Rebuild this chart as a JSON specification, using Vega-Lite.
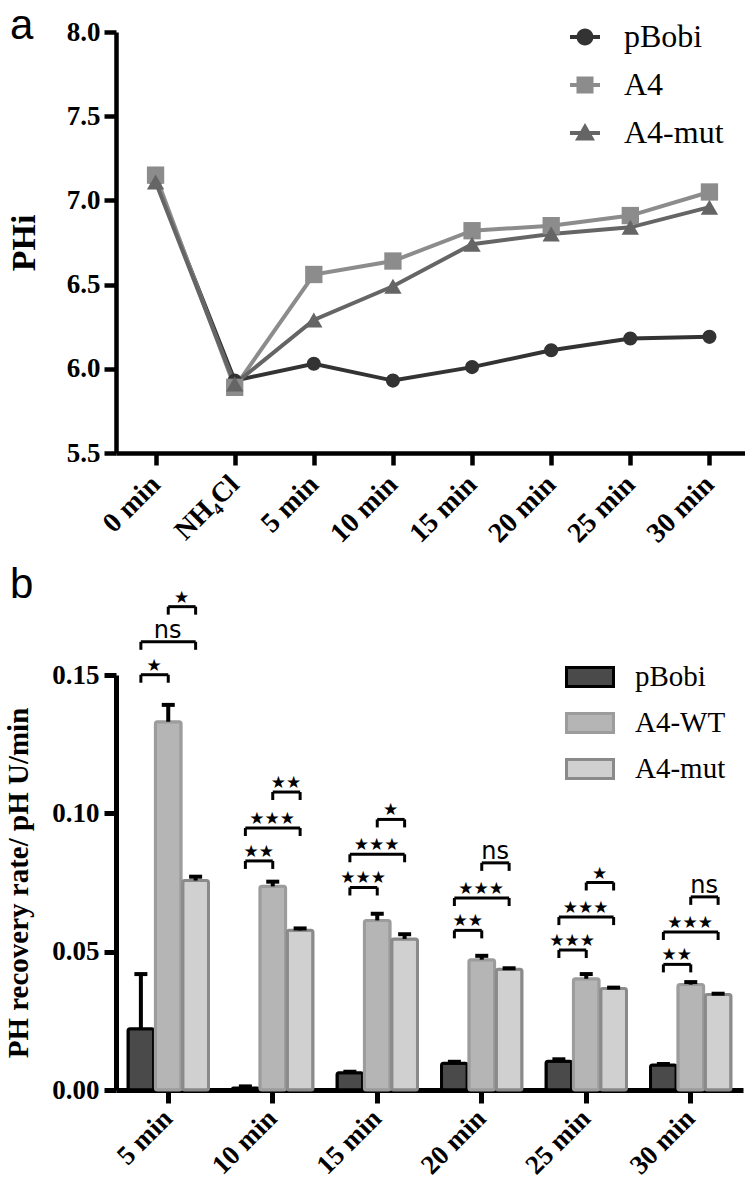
{
  "$schema": "https://vega.github.io/schema/vega-lite/v6.json",
  "background": "white",
  "padding": {"left": 4, "top": 5, "right": 0, "bottom": 0},
  "spacing": 222,
  "bounds": "flush",
  "datasets": {
    "phi": [
      {"time": "0 min", "series": "pBobi", "value": 7.12},
      {"time": "NH₄Cl", "series": "pBobi", "value": 5.93},
      {"time": "5 min", "series": "pBobi", "value": 6.03},
      {"time": "10 min", "series": "pBobi", "value": 5.93},
      {"time": "15 min", "series": "pBobi", "value": 6.01},
      {"time": "20 min", "series": "pBobi", "value": 6.11},
      {"time": "25 min", "series": "pBobi", "value": 6.18},
      {"time": "30 min", "series": "pBobi", "value": 6.19},
      {"time": "0 min", "series": "A4", "value": 7.15},
      {"time": "NH₄Cl", "series": "A4", "value": 5.89},
      {"time": "5 min", "series": "A4", "value": 6.56},
      {"time": "10 min", "series": "A4", "value": 6.64},
      {"time": "15 min", "series": "A4", "value": 6.82},
      {"time": "20 min", "series": "A4", "value": 6.85},
      {"time": "25 min", "series": "A4", "value": 6.91},
      {"time": "30 min", "series": "A4", "value": 7.05},
      {"time": "0 min", "series": "A4-mut", "value": 7.11},
      {"time": "NH₄Cl", "series": "A4-mut", "value": 5.91},
      {"time": "5 min", "series": "A4-mut", "value": 6.29},
      {"time": "10 min", "series": "A4-mut", "value": 6.49},
      {"time": "15 min", "series": "A4-mut", "value": 6.74},
      {"time": "20 min", "series": "A4-mut", "value": 6.8},
      {"time": "25 min", "series": "A4-mut", "value": 6.84},
      {"time": "30 min", "series": "A4-mut", "value": 6.96}
    ],
    "rate": [
      {"time": "5 min", "series": "pBobi", "mean": 0.0221, "upper": 0.0419},
      {"time": "5 min", "series": "A4-WT", "mean": 0.1331, "upper": 0.1392},
      {"time": "5 min", "series": "A4-mut", "mean": 0.0757, "upper": 0.0771},
      {"time": "10 min", "series": "pBobi", "mean": 0.0007, "upper": 0.0013},
      {"time": "10 min", "series": "A4-WT", "mean": 0.0736, "upper": 0.0753},
      {"time": "10 min", "series": "A4-mut", "mean": 0.0577, "upper": 0.0584},
      {"time": "15 min", "series": "pBobi", "mean": 0.0062, "upper": 0.0066},
      {"time": "15 min", "series": "A4-WT", "mean": 0.0613, "upper": 0.0637},
      {"time": "15 min", "series": "A4-mut", "mean": 0.0546, "upper": 0.0563},
      {"time": "20 min", "series": "pBobi", "mean": 0.0097, "upper": 0.0102},
      {"time": "20 min", "series": "A4-WT", "mean": 0.0471, "upper": 0.0485},
      {"time": "20 min", "series": "A4-mut", "mean": 0.0436, "upper": 0.044},
      {"time": "25 min", "series": "pBobi", "mean": 0.0104, "upper": 0.0111},
      {"time": "25 min", "series": "A4-WT", "mean": 0.0402, "upper": 0.0419},
      {"time": "25 min", "series": "A4-mut", "mean": 0.0367, "upper": 0.037},
      {"time": "30 min", "series": "pBobi", "mean": 0.009, "upper": 0.0094},
      {"time": "30 min", "series": "A4-WT", "mean": 0.0381, "upper": 0.039},
      {"time": "30 min", "series": "A4-mut", "mean": 0.0345, "upper": 0.0348}
    ],
    "sig": [
      {"time": "5 min", "a": "pBobi", "b": "A4-WT", "y": 0.1501, "label": "★", "span": "adj"},
      {"time": "5 min", "a": "pBobi", "b": "A4-mut", "y": 0.162, "label": "ns", "span": "wide"},
      {"time": "5 min", "a": "A4-WT", "b": "A4-mut", "y": 0.1747, "label": "★", "span": "adj"},
      {"time": "10 min", "a": "pBobi", "b": "A4-WT", "y": 0.0828, "label": "★★", "span": "adj"},
      {"time": "10 min", "a": "pBobi", "b": "A4-mut", "y": 0.0947, "label": "★★★", "span": "wide"},
      {"time": "10 min", "a": "A4-WT", "b": "A4-mut", "y": 0.1077, "label": "★★", "span": "adj"},
      {"time": "15 min", "a": "pBobi", "b": "A4-WT", "y": 0.0732, "label": "★★★", "span": "adj"},
      {"time": "15 min", "a": "pBobi", "b": "A4-mut", "y": 0.0852, "label": "★★★", "span": "wide"},
      {"time": "15 min", "a": "A4-WT", "b": "A4-mut", "y": 0.0978, "label": "★", "span": "adj"},
      {"time": "20 min", "a": "pBobi", "b": "A4-WT", "y": 0.0577, "label": "★★", "span": "adj"},
      {"time": "20 min", "a": "pBobi", "b": "A4-mut", "y": 0.0694, "label": "★★★", "span": "wide"},
      {"time": "20 min", "a": "A4-WT", "b": "A4-mut", "y": 0.0821, "label": "ns", "span": "adj"},
      {"time": "25 min", "a": "pBobi", "b": "A4-WT", "y": 0.0506, "label": "★★★", "span": "adj"},
      {"time": "25 min", "a": "pBobi", "b": "A4-mut", "y": 0.0625, "label": "★★★", "span": "wide"},
      {"time": "25 min", "a": "A4-WT", "b": "A4-mut", "y": 0.075, "label": "★", "span": "adj"},
      {"time": "30 min", "a": "pBobi", "b": "A4-WT", "y": 0.0454, "label": "★★", "span": "adj"},
      {"time": "30 min", "a": "pBobi", "b": "A4-mut", "y": 0.0571, "label": "★★★", "span": "wide"},
      {"time": "30 min", "a": "A4-WT", "b": "A4-mut", "y": 0.0698, "label": "ns", "span": "adj"}
    ]
  },
  "config": {
    "view": {"stroke": null},
    "axis": {
      "domainColor": "#000", "domainWidth": 4.5, "tickColor": "#000", "tickWidth": 4.5, "tickSize": 12,
      "labelFont": "Liberation Serif", "labelFontWeight": "bold", "labelFontSize": 27, "labelColor": "#000",
      "titleFont": "Liberation Serif", "titleFontWeight": "bold", "titleColor": "#000", "grid": false
    },
    "title": {"font": "Liberation Sans", "fontSize": 42, "fontWeight": "normal", "color": "#000", "anchor": "start", "frame": "group"}
  },
  "vconcat": [
    {
      "width": 633,
      "height": 421,
      "title": {"text": "a", "dx": -106, "offset": -30},
      "data": {"name": "phi"},
      "encoding": {
        "x": {"field": "time", "type": "nominal",
          "scale": {"type": "point", "domain": ["0 min", "NH₄Cl", "5 min", "10 min", "15 min", "20 min", "25 min", "30 min"], "padding": 0.5},
          "axis": {"title": null, "labelAngle": -45, "labelAlign": "right", "labelBaseline": "middle", "labelPadding": 15, "labelFontSize": 28}},
        "y": {"field": "value", "type": "quantitative",
          "scale": {"domain": [5.5, 8], "nice": false, "zero": false},
          "axis": {"title": "PHi", "titleFontSize": 34, "titlePadding": 25, "values": [5.5, 6, 6.5, 7, 7.5, 8], "format": ".1f", "labelPadding": 4}},
        "color": {"field": "series", "type": "nominal",
          "scale": {"domain": ["pBobi", "A4", "A4-mut"], "range": ["#333333", "#8c8c8c", "#656565"]},
          "legend": {
            "title": null, "orient": "none", "legendX": 453, "legendY": -11, "padding": 0,
            "symbolSize": 400, "symbolStrokeWidth": 0, "labelFont": "Liberation Serif", "labelFontSize": 32, "labelColor": "#000",
            "labelOffset": 23, "rowPadding": 16,
            "encode": {"symbols": {"update": {
              "shape": {"signal": "datum.value === 'pBobi' ? 'M-1.5,-0.2H1.5V0.2H-1.5Z M0.85,0A0.85,0.85,0,1,1,-0.85,0A0.85,0.85,0,1,1,0.85,0Z' : datum.value === 'A4' ? 'M-1.5,-0.2H1.5V0.2H-1.5Z M-0.85,-0.85H0.85V0.85H-0.85Z' : 'M-1.5,-0.2H1.5V0.2H-1.5Z M0,-1L1,0.75L-1,0.75Z'"},
              "fill": {"signal": "datum.value === 'pBobi' ? '#333333' : datum.value === 'A4' ? '#8c8c8c' : '#656565'"},
              "opacity": {"value": 1}
            }}}
          }}
      },
      "layer": [
        {"mark": {"type": "line", "strokeWidth": 4}},
        {"transform": [{"filter": "datum.series === 'pBobi'"}], "mark": {"type": "point", "shape": "circle", "filled": true, "opacity": 1, "size": 200}},
        {"transform": [{"filter": "datum.series === 'A4'"}], "mark": {"type": "point", "shape": "square", "filled": true, "opacity": 1, "size": 300}},
        {"transform": [{"filter": "datum.series === 'A4-mut'"}], "mark": {"type": "point", "shape": "triangle-up", "filled": true, "opacity": 1, "size": 300}}
      ]
    },
    {
      "width": 627,
      "height": 415,
      "title": {"text": "b", "dx": -106, "offset": -18},
      "encoding": {
        "x": {"field": "time", "type": "nominal",
          "scale": {"domain": ["5 min", "10 min", "15 min", "20 min", "25 min", "30 min"], "paddingInner": 0.23, "paddingOuter": 0.115},
          "axis": {"title": null, "labelAngle": -45, "labelAlign": "right", "labelBaseline": "middle", "labelPadding": 11, "labelFontSize": 27, "tickSize": 13, "domainWidth": 5, "tickWidth": 5}}
      },
      "layer": [
        {
          "data": {"name": "rate"},
          "mark": {"type": "bar", "strokeWidth": 3, "cornerRadius": 2},
          "encoding": {
            "xOffset": {"field": "series", "type": "nominal", "scale": {"domain": ["pBobi", "A4-WT", "A4-mut"], "paddingInner": 0.06}},
            "y": {"field": "mean", "type": "quantitative",
              "scale": {"domain": [0, 0.15], "nice": false},
              "axis": {"title": "PH recovery rate/ pH U/min", "titleFontSize": 29, "titlePadding": 18, "values": [0, 0.05, 0.1, 0.15], "format": ".2f", "labelPadding": 5, "domainWidth": 5, "tickWidth": 5}},
            "fill": {"field": "series", "type": "nominal",
              "scale": {"domain": ["pBobi", "A4-WT", "A4-mut"], "range": ["#4a4a4a", "#b5b5b5", "#d0d0d0"]},
              "legend": {"title": null, "orient": "none", "legendX": 449, "legendY": 620, "padding": 0,
                "symbolType": "M-1,-0.4H1V0.4H-1Z", "symbolSize": 2209, "symbolStrokeWidth": 3,
                "labelFont": "Liberation Serif", "labelFontSize": 29, "labelColor": "#000", "labelOffset": 20, "rowPadding": 5}},
            "stroke": {"field": "series", "type": "nominal",
              "scale": {"domain": ["pBobi", "A4-WT", "A4-mut"], "range": ["#000000", "#9c9c9c", "#8a8a8a"]},
              "legend": {"title": null, "orient": "none", "legendX": 449, "legendY": 620, "padding": 0,
                "symbolType": "M-1,-0.4H1V0.4H-1Z", "symbolSize": 2209, "symbolStrokeWidth": 3,
                "labelFont": "Liberation Serif", "labelFontSize": 29, "labelColor": "#000", "labelOffset": 20, "rowPadding": 5}}
          }
        },
        {
          "data": {"name": "rate"},
          "mark": {"type": "rule", "strokeWidth": 4, "color": "#000"},
          "encoding": {
            "xOffset": {"field": "series", "type": "nominal", "scale": {"domain": ["pBobi", "A4-WT", "A4-mut"], "paddingInner": 0.06}},
            "y": {"field": "mean", "type": "quantitative",
              "scale": {"domain": [0, 0.15], "nice": false},
              "axis": {"title": "PH recovery rate/ pH U/min", "titleFontSize": 29, "titlePadding": 18, "values": [0, 0.05, 0.1, 0.15], "format": ".2f", "labelPadding": 5, "domainWidth": 5, "tickWidth": 5}},
            "y2": {"field": "upper"}
          }
        },
        {
          "data": {"name": "rate"},
          "mark": {"type": "tick", "thickness": 4, "size": 13, "color": "#000", "opacity": 1},
          "encoding": {
            "xOffset": {"field": "series", "type": "nominal", "scale": {"domain": ["pBobi", "A4-WT", "A4-mut"], "paddingInner": 0.06}},
            "y": {"field": "upper", "type": "quantitative",
              "scale": {"domain": [0, 0.15], "nice": false},
              "axis": {"title": "PH recovery rate/ pH U/min", "titleFontSize": 29, "titlePadding": 18, "values": [0, 0.05, 0.1, 0.15], "format": ".2f", "labelPadding": 5, "domainWidth": 5, "tickWidth": 5}}
          }
        },
        {
          "data": {"name": "sig"},
          "transform": [{"fold": ["a", "b"], "as": ["end", "series"]}],
          "mark": {"type": "line", "strokeWidth": 3, "color": "#000"},
          "encoding": {
            "xOffset": {"field": "series", "type": "nominal", "scale": {"domain": ["pBobi", "A4-WT", "A4-mut"], "paddingInner": 0.06}},
            "y": {"field": "y", "type": "quantitative",
              "scale": {"domain": [0, 0.15], "nice": false},
              "axis": {"title": "PH recovery rate/ pH U/min", "titleFontSize": 29, "titlePadding": 18, "values": [0, 0.05, 0.1, 0.15], "format": ".2f", "labelPadding": 5, "domainWidth": 5, "tickWidth": 5}},
            "detail": [{"field": "time", "type": "nominal"}, {"field": "a", "type": "nominal"}, {"field": "b", "type": "nominal"}]
          }
        },
        {
          "data": {"name": "sig"},
          "transform": [{"fold": ["a", "b"], "as": ["end", "series"]}],
          "mark": {"type": "rule", "strokeWidth": 3, "color": "#000", "y2Offset": 8},
          "encoding": {
            "xOffset": {"field": "series", "type": "nominal", "scale": {"domain": ["pBobi", "A4-WT", "A4-mut"], "paddingInner": 0.06}},
            "y": {"field": "y", "type": "quantitative",
              "scale": {"domain": [0, 0.15], "nice": false},
              "axis": {"title": "PH recovery rate/ pH U/min", "titleFontSize": 29, "titlePadding": 18, "values": [0, 0.05, 0.1, 0.15], "format": ".2f", "labelPadding": 5, "domainWidth": 5, "tickWidth": 5}},
            "y2": {"field": "y"}
          }
        },
        {
          "data": {"name": "sig"},
          "transform": [{"filter": "datum.span === 'adj'"}],
          "mark": {"type": "text", "font": "DejaVu Sans", "color": "#000", "baseline": "alphabetic", "dy": -4, "dx": 13.3},
          "encoding": {
            "xOffset": {"field": "a", "type": "nominal", "scale": {"domain": ["pBobi", "A4-WT", "A4-mut"], "paddingInner": 0.06}},
            "y": {"field": "y", "type": "quantitative",
              "scale": {"domain": [0, 0.15], "nice": false},
              "axis": {"title": "PH recovery rate/ pH U/min", "titleFontSize": 29, "titlePadding": 18, "values": [0, 0.05, 0.1, 0.15], "format": ".2f", "labelPadding": 5, "domainWidth": 5, "tickWidth": 5}},
            "text": {"field": "label"},
            "size": {"condition": {"test": "datum.label === 'ns'", "value": 24}, "value": 17}
          }
        },
        {
          "data": {"name": "sig"},
          "transform": [{"filter": "datum.span === 'wide'"}],
          "mark": {"type": "text", "font": "DejaVu Sans", "color": "#000", "baseline": "alphabetic", "dy": -4, "dx": 26.7},
          "encoding": {
            "xOffset": {"field": "a", "type": "nominal", "scale": {"domain": ["pBobi", "A4-WT", "A4-mut"], "paddingInner": 0.06}},
            "y": {"field": "y", "type": "quantitative",
              "scale": {"domain": [0, 0.15], "nice": false},
              "axis": {"title": "PH recovery rate/ pH U/min", "titleFontSize": 29, "titlePadding": 18, "values": [0, 0.05, 0.1, 0.15], "format": ".2f", "labelPadding": 5, "domainWidth": 5, "tickWidth": 5}},
            "text": {"field": "label"},
            "size": {"condition": {"test": "datum.label === 'ns'", "value": 24}, "value": 17}
          }
        }
      ]
    }
  ]
}
